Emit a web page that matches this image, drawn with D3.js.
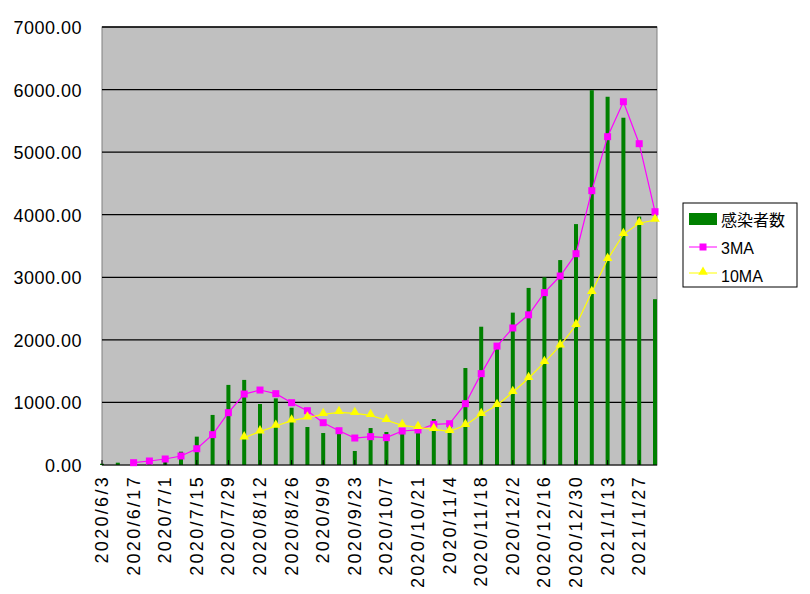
<!DOCTYPE html>
<meta charset="utf-8">
<style>
body { margin: 0; background: #fff; }
text { font-family: "Liberation Sans", "Noto Sans CJK JP", sans-serif; }
</style>
<body>
<svg width="810" height="594"></svg>
<script src="https://cdn.jsdelivr.net/npm/d3@7/dist/d3.min.js"></script>
<script>
var dates = ["2020/6/3","2020/6/10","2020/6/17","2020/6/24","2020/7/1","2020/7/8","2020/7/15","2020/7/22",
  "2020/7/29","2020/8/5","2020/8/12","2020/8/19","2020/8/26","2020/9/2","2020/9/9","2020/9/16",
  "2020/9/23","2020/9/30","2020/10/7","2020/10/14","2020/10/21","2020/10/28","2020/11/4","2020/11/11",
  "2020/11/18","2020/11/25","2020/12/2","2020/12/9","2020/12/16","2020/12/23","2020/12/30","2021/1/6",
  "2021/1/13","2021/1/20","2021/1/27","2021/2/3"];
var cases = [20,37,30,30,80,213,453,800,1280,1360,975,1065,915,607,511,506,224,591,527,
  560,575,735,640,1550,2210,1880,2435,2830,3000,3275,3850,5990,5885,5550,3970,2650];
var ma3 = [null,null,37,64,96,144,260,485,836,1134,1198,1140,996,868,676,548,431,453,437,
  543,560,650,660,980,1460,1900,2190,2400,2755,3020,3377,4384,5247,5806,5135,4048];
var ma10 = [null,null,null,null,null,null,null,null,null,437,533,623,708,756,810,842,826,794,715,
  634,602,570,538,634,810,954,1162,1386,1641,1907,2233,2760,3288,3687,3863,3916];
var yTicks = [0,1000,2000,3000,4000,5000,6000,7000];
var seriesNames = ["感染者数","3MA","10MA"];

var svg = d3.select("svg");
var pLeft = 102, pRight = 657, pTop = 27, pBottom = 465;
var x = d3.scaleLinear().domain([0, 35]).range([pLeft, pRight - 2]);
var y = d3.scaleLinear().domain([0, 7000]).range([pBottom, pTop]);

svg.append("rect").attr("x", pLeft).attr("y", pTop).attr("width", pRight - pLeft).attr("height", pBottom - pTop)
  .attr("fill", "#c0c0c0").attr("stroke", "#808080");

svg.selectAll(".grid").data(yTicks.slice(1)).enter().append("line")
  .attr("x1", pLeft).attr("x2", pRight).attr("y1", y).attr("y2", y)
  .attr("stroke", "#000").attr("stroke-width", 1.3);

svg.selectAll(".yl").data(yTicks).enter().append("text")
  .attr("x", 82).attr("y", function(d) { return y(d) + 7; })
  .attr("text-anchor", "end").attr("font-size", 18).attr("letter-spacing", 0.5)
  .text(function(d) { return d.toFixed(2); });

// bars
svg.selectAll(".bar").data(cases).enter().append("rect")
  .attr("x", function(d, i) { return x(i) - 2; }).attr("width", 4)
  .attr("y", function(d) { return y(d); }).attr("height", function(d) { return pBottom - y(d); })
  .attr("fill", "#008000");

// axis line and ticks
svg.append("line").attr("x1", pLeft).attr("x2", pRight).attr("y1", pBottom).attr("y2", pBottom).attr("stroke", "#000");
var labelIdx = d3.range(0, 36, 2);
svg.selectAll(".tk").data(labelIdx).enter().append("line")
  .attr("x1", function(d) { return x(d); }).attr("x2", function(d) { return x(d); })
  .attr("y1", pBottom - 5).attr("y2", pBottom).attr("stroke", "#000");
svg.selectAll(".xl").data(labelIdx).enter().append("text")
  .attr("transform", function(d) { return "translate(" + (x(d) + 6) + "," + 475 + ") rotate(-90)"; })
  .attr("text-anchor", "end").attr("font-size", 18).attr("letter-spacing", 2.3)
  .text(function(d) { return dates[d]; });

function drawLine(vals, color) {
  var line = d3.line().defined(function(d) { return d != null; })
    .x(function(d, i) { return x(i); }).y(function(d) { return y(d); });
  svg.append("path").datum(vals).attr("d", line).attr("fill", "none").attr("stroke", color).attr("stroke-width", 1.2);
}
drawLine(ma3, "#ff00ff");
drawLine(ma10, "#ffff00");

var pts3 = ma3.map(function(d, i) { return [i, d]; }).filter(function(p) { return p[1] != null; });
svg.selectAll(".m3").data(pts3).enter().append("rect")
  .attr("x", function(p) { return x(p[0]) - 3.5; }).attr("y", function(p) { return y(p[1]) - 3.5; })
  .attr("width", 7).attr("height", 7).attr("fill", "#ff00ff");
var pts10 = ma10.map(function(d, i) { return [i, d]; }).filter(function(p) { return p[1] != null; });
var tri = d3.symbol().type(d3.symbolTriangle).size(40);
svg.selectAll(".m10").data(pts10).enter().append("path")
  .attr("d", tri).attr("transform", function(p) { return "translate(" + x(p[0]) + "," + (y(p[1]) - 1) + ")"; })
  .attr("fill", "#ffff00");

// legend
var lg = svg.append("g").attr("transform", "translate(683,203)");
lg.append("rect").attr("width", 114).attr("height", 84).attr("fill", "#fff").attr("stroke", "#000");
lg.append("rect").attr("x", 6).attr("y", 10).attr("width", 28).attr("height", 12).attr("fill", "#008000");
lg.append("line").attr("x1", 6).attr("x2", 34).attr("y1", 44).attr("y2", 44).attr("stroke", "#ff00ff");
lg.append("rect").attr("x", 16.5).attr("y", 40.5).attr("width", 7).attr("height", 7).attr("fill", "#ff00ff");
lg.append("line").attr("x1", 6).attr("x2", 34).attr("y1", 70).attr("y2", 70).attr("stroke", "#ffff00");
lg.append("path").attr("d", tri).attr("transform", "translate(20,69)").attr("fill", "#ffff00");
lg.selectAll(".lt").data(seriesNames).enter().append("text")
  .attr("x", 38).attr("y", function(d, i) { return 23 + i * 28; })
  .attr("font-size", 16).text(function(d) { return d; });
</script>
</body>
